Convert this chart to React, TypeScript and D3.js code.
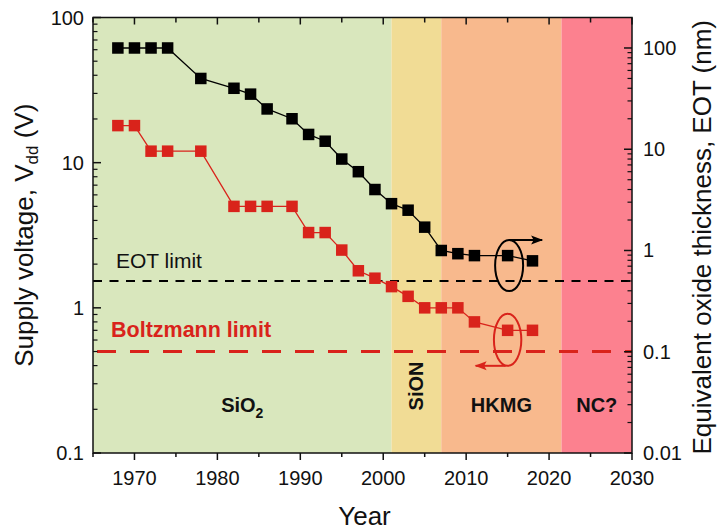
import React from "react";
import * as d3 from "d3";

// Calendar years of the technology nodes
const eotYears = [1968, 1970, 1972, 1974, 1978, 1982, 1984, 1986, 1989, 1991, 1993, 1995, 1997, 1999, 2001, 2003, 2005, 2007, 2009, 2011, 2015, 2018];
// Equivalent oxide thickness (nm), right axis
const eotValues = [100, 100, 100, 100, 50, 40, 35, 25, 20, 14, 12, 8, 6, 4, 2.9, 2.5, 1.7, 1.0, 0.93, 0.89, 0.89, 0.79];
const vddYears = [1968, 1970, 1972, 1974, 1978, 1982, 1984, 1986, 1989, 1991, 1993, 1995, 1997, 1999, 2001, 2003, 2005, 2007, 2009, 2011, 2015, 2018];
// Supply voltage (V), left axis
const vddValues = [18, 18, 12, 12, 12, 5, 5, 5, 5, 3.3, 3.3, 2.5, 1.8, 1.6, 1.4, 1.2, 1.0, 1.0, 1.0, 0.8, 0.7, 0.7];

// Gate-stack eras
const eraNames = ["SiO2", "SiON", "HKMG", "NC?"];
const eraStarts = [1965, 2001, 2007, 2021.5];
const eraEnds = [2001, 2007, 2021.5, 2030];
const eraColors = ["#d9e7bd", "#f1dc95", "#f8b98d", "#fc818f"];

const eotLimit = 0.5; // nm
const boltzmannLimit = 0.5; // V

const xTickYears = [1970, 1980, 1990, 2000, 2010, 2020, 2030];
const leftTicks = [0.1, 1, 10, 100];
const leftTickLabels = ["0.1", "1", "10", "100"];
const rightTicks = [0.01, 0.1, 1, 10, 100];
const rightTickLabels = ["0.01", "0.1", "1", "10", "100"];

const RED = "#d9231b";
const FONT = "'Liberation Sans', Arial, sans-serif";

const W = 720;
const H = 531;
const L = 93;
const R = 632;
const T = 17.5;
const B = 453;

function minorLog(lo: number, hi: number): number[] {
  const out: number[] = [];
  for (let e = Math.floor(Math.log10(lo)); e <= Math.ceil(Math.log10(hi)); e++) {
    for (let k = 2; k <= 9; k++) {
      const v = k * Math.pow(10, e);
      if (v > lo && v < hi) out.push(v);
    }
  }
  return out;
}

export default function App() {
  const x = d3.scaleLinear().domain([1965, 2030]).range([L, R]);
  const yL = d3.scaleLog().domain([0.1, 100]).range([B, T]);
  const yR = d3.scaleLog().domain([0.01, 200]).range([B, T]);

  const eotPts = eotYears.map((yr, i) => [x(yr), yR(eotValues[i])] as [number, number]);
  const vddPts = vddYears.map((yr, i) => [x(yr), yL(vddValues[i])] as [number, number]);
  const line = d3.line();

  const sq = 11.5;
  const xMinor = d3.range(1965, 2031, 5);

  const leftMinor = minorLog(0.1, 100);
  const rightMinor = minorLog(0.01, 200);

  // Circled markers with arrows pointing to the axis each series belongs to
  const eotMark = { x: x(2015) + 1.5, y: yR(0.89) + 10, rx: 14, ry: 25.5 };
  const vddMark = { x: x(2015), y: yL(0.7) + 9.5, rx: 13.7, ry: 26 };

  return (
    <svg width={W} height={H} style={{ position: "absolute", left: 0, top: 0, background: "#fff" }} fontFamily={FONT}>
      <defs>
        <marker id="headK" viewBox="0 0 12 10" refX="11" refY="5" markerWidth="13" markerHeight="10" orient="auto" markerUnits="userSpaceOnUse">
          <path d="M0,0.5 L12,5 L0,9.5 L2.5,5 Z" fill="#000" />
        </marker>
        <marker id="headR" viewBox="0 0 12 10" refX="11" refY="5" markerWidth="13" markerHeight="10" orient="auto" markerUnits="userSpaceOnUse">
          <path d="M0,0.5 L12,5 L0,9.5 L2.5,5 Z" fill={RED} />
        </marker>
      </defs>

      {/* era bands */}
      {eraNames.map((n, i) => (
        <rect key={n} x={x(eraStarts[i])} y={T} width={x(eraEnds[i]) - x(eraStarts[i])} height={B - T} fill={eraColors[i]} />
      ))}

      {/* limits */}
      <line x1={L} x2={R} y1={yR(eotLimit)} y2={yR(eotLimit)} stroke="#000" strokeWidth={2} strokeDasharray="9 7.5" />
      <line x1={L} x2={R} y1={yL(boltzmannLimit)} y2={yL(boltzmannLimit)} stroke={RED} strokeWidth={3} strokeDasharray="19 14" strokeDashoffset={-4} />
      <text x={116} y={268} fontSize={21} fill="#111">EOT limit</text>
      <text x={111} y={337} fontSize={21.5} fontWeight="bold" fill={RED}>Boltzmann limit</text>

      {/* series */}
      <path d={line(eotPts) || ""} fill="none" stroke="#000" strokeWidth={1.3} />
      <path d={line(vddPts) || ""} fill="none" stroke={RED} strokeWidth={1.3} />
      {eotPts.map(([px, py], i) => (
        <rect key={"k" + i} x={px - sq / 2} y={py - sq / 2} width={sq} height={sq} fill="#000" />
      ))}
      {vddPts.map(([px, py], i) => (
        <rect key={"r" + i} x={px - sq / 2} y={py - sq / 2} width={sq} height={sq} fill={RED} />
      ))}

      {/* axis indicators */}
      <ellipse cx={eotMark.x} cy={eotMark.y} rx={eotMark.rx} ry={eotMark.ry} fill="none" stroke="#000" strokeWidth={2} />
      <line x1={eotMark.x} y1={eotMark.y - eotMark.ry} x2={eotMark.x + 33} y2={eotMark.y - eotMark.ry} stroke="#000" strokeWidth={2} markerEnd="url(#headK)" />
      <ellipse cx={vddMark.x} cy={vddMark.y} rx={vddMark.rx} ry={vddMark.ry} fill="none" stroke={RED} strokeWidth={2} />
      <line x1={vddMark.x - 2} y1={vddMark.y + vddMark.ry} x2={vddMark.x - 32} y2={vddMark.y + vddMark.ry} stroke={RED} strokeWidth={2} markerEnd="url(#headR)" />

      {/* era labels */}
      <text x={(x(eraStarts[0]) + x(eraEnds[0])) / 2} y={412} fontSize={20} fontWeight="bold" textAnchor="middle" fill="#111">
        SiO<tspan fontSize={14} dy={6}>2</tspan>
      </text>
      <text transform={`translate(${(x(eraStarts[1]) + x(eraEnds[1])) / 2 + 7},386) rotate(-90)`} fontSize={20} fontWeight="bold" textAnchor="middle" fill="#111">
        {eraNames[1]}
      </text>
      <text x={(x(eraStarts[2]) + x(eraEnds[2])) / 2} y={412} fontSize={20} fontWeight="bold" textAnchor="middle" fill="#111">
        {eraNames[2]}
      </text>
      <text x={(x(eraStarts[3]) + x(eraEnds[3])) / 2} y={412} fontSize={20} fontWeight="bold" textAnchor="middle" fill="#111">
        {eraNames[3]}
      </text>

      {/* frame */}
      <rect x={L} y={T} width={R - L} height={B - T} fill="none" stroke="#111" strokeWidth={1.5} />

      {/* bottom axis: ticks outward */}
      {xMinor.map((yr) => (
        <line key={"bx" + yr} x1={x(yr)} x2={x(yr)} y1={B} y2={B + (yr % 10 === 0 ? 7 : 4)} stroke="#111" strokeWidth={1.5} />
      ))}
      {/* top axis: ticks inward */}
      {xMinor.map((yr) => (
        <line key={"tx" + yr} x1={x(yr)} x2={x(yr)} y1={T} y2={T + (yr % 10 === 0 ? 7 : 5)} stroke="#111" strokeWidth={1.5} />
      ))}
      {xTickYears.map((yr) => (
        <text key={"xl" + yr} x={x(yr)} y={485} fontSize={20} textAnchor="middle" fill="#111">{yr}</text>
      ))}

      {/* left axis */}
      {leftTicks.map((v) => (
        <line key={"lt" + v} x1={L} x2={L + 8} y1={yL(v)} y2={yL(v)} stroke="#111" strokeWidth={1.5} />
      ))}
      {leftMinor.map((v) => (
        <line key={"lm" + v} x1={L} x2={L + 4.5} y1={yL(v)} y2={yL(v)} stroke="#111" strokeWidth={1.2} />
      ))}
      {leftTicks.map((v, i) => (
        <text key={"ll" + v} x={84} y={yL(v) + 7} fontSize={20} textAnchor="end" fill="#111">{leftTickLabels[i]}</text>
      ))}

      {/* right axis */}
      {rightTicks.map((v) => (
        <line key={"rt" + v} x1={R} x2={R - 8} y1={yR(v)} y2={yR(v)} stroke="#111" strokeWidth={1.5} />
      ))}
      {rightMinor.map((v) => (
        <line key={"rm" + v} x1={R} x2={R - 4.5} y1={yR(v)} y2={yR(v)} stroke="#111" strokeWidth={1.2} />
      ))}
      {rightTicks.map((v, i) => (
        <text key={"rl" + v} x={643} y={yR(v) + 7} fontSize={20} fill="#111">{rightTickLabels[i]}</text>
      ))}

      {/* axis titles */}
      <text x={(L + R) / 2 + 2} y={525} fontSize={26} textAnchor="middle" fill="#111">Year</text>
      <text transform={`translate(33,${(T + B) / 2}) rotate(-90)`} fontSize={26} textAnchor="middle" fill="#111">
        Supply voltage, V<tspan fontSize={17} dy={5}>dd</tspan><tspan dy={-5}> (V)</tspan>
      </text>
      <text transform={`translate(711,${(T + B) / 2 + 2}) rotate(-90)`} fontSize={26} textAnchor="middle" fill="#111">
        Equivalent oxide thickness, EOT (nm)
      </text>
    </svg>
  );
}
